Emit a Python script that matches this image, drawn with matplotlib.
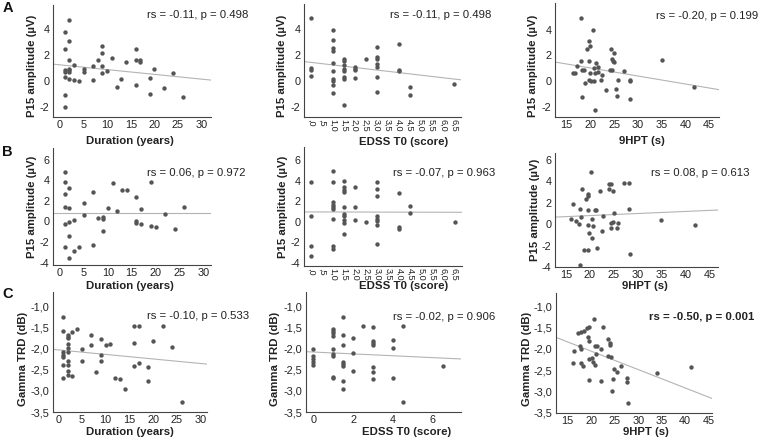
import matplotlib
matplotlib.use("Agg")
import matplotlib.pyplot as plt
import numpy as np

plt.rcParams['font.family'] = ['Liberation Sans', 'DejaVu Sans']

W, H = 760, 443

# ---------------- data ----------------
# Row A: P15 amplitude
dur_A = [1,1,1,1,1,1,1, 2,2,2,2,2,2,2, 3,3, 4, 5,5, 7,7, 8, 9,9,9,9, 10, 11, 12, 13, 14,
         16,16,16, 17,17, 19,19, 20, 22, 24, 26]
p15_dur_A = [3.77,2.42,0.80,0.67,0.26,-1.09,-2.03, 4.69,3.03,1.56,0.92,0.80,0.67,0.11,
             1.25,0.06, 0.0, 0.92,0.67, 1.13,0.03, 1.61, 2.68,2.12,1.10,0.64, 0.72, 1.74,
             -0.47, 0.16, 1.46, 2.47,1.61,-0.35, 1.58,1.43, 0.19,-1.00, 0.92, -0.58, 0.57, -1.24]

edss_A = [0,0,0,0, 1,1,1,1,1,1,1,1,1,1, 1.5,1.5,1.5,1.5,1.5,1.5,1.5,1.5, 2,2,2,2, 2.5,
          3,3,3,3,3,3,3, 4,4,4, 4.5,4.5, 6.5]
p15_edss_A = [4.79,0.97,0.80,0.39, 3.90,3.14,2.55,2.25,1.36,0.77,0.14,-0.04,-0.32,-0.93,
              1.71,1.56,1.18,0.90,0.77,0.29,0.16,-1.85, 1.10,0.92,0.80,0.26, 1.69,
              2.58,1.86,1.71,1.28,1.08,0.29,-0.86, 2.80,0.82,0.72, -0.45,-1.09, -0.20]

hpt_A = [18.0,20.5,19.7,19.9,19.2,24.3,25.0,24.5,24.8,25.0,35.1,18.1,19.8,21.1,17.2,20.7,
         21.6,18.3,18.6,24.1,24.5,27.0,16.3,16.8,19.9,21.0,21.5,22.5,19.8,20.1,20.7,18.9,
         22.3,25.8,28.3,28.3,23.2,25.3,25.7,18.2,28.4,20.9,41.9]
p15_hpt_A = [4.88,3.95,3.15,2.76,2.53,2.50,2.19,1.73,1.60,1.47,1.65,1.57,1.60,1.42,1.21,1.05,
             1.10,0.87,0.87,0.90,0.90,0.82,0.62,0.62,0.64,0.67,0.69,0.51,0.12,0.02,0.02,-0.11,
             0.10,0.07,0.12,-0.01,-0.70,-0.60,-1.17,-1.22,-1.37,-2.20,-0.42]

# Row B: P15 amplitude (second measure)
dur_B = [1,1,1,1,1,1, 2,2,2,2,2, 3,3, 4, 5,5, 7,7, 8, 9,9,9, 10, 11, 12, 13, 14,
         16,16,16, 17,17, 19,19, 20, 22, 24, 26]
p15_dur_B = [4.80,3.79,2.66,1.36,-0.27,-2.50, 3.27,1.29,-0.01,-1.37,-3.51, 0.16,-2.83, -2.47,
             1.81,0.64, 2.85,-2.31, 0.35, 0.45,0.22,-0.92, 1.29, 3.73, 1.03, 3.01, 3.01,
             2.33,0.09,-0.10, 1.26,-0.20, 3.82,-0.43, -0.49, 0.68, -0.75, 1.39]

edss_B = [0,0,0,0, 1,1,1,1,1,1,1,1,1, 1.5,1.5,1.5,1.5,1.5,1.5,1.5,1.5,1.5,1.5, 2,2,2, 2.5,
          3,3,3,3,3,3,3,3, 4,4,4, 4.5,4.5, 6.5]
p15_edss_B = [3.89,0.55,-2.31,-3.32, 4.93,3.86,1.97,1.68,1.45,1.23,0.32,-2.38,-2.67,
              3.99,3.40,3.14,2.92,1.45,0.81,0.55,0.22,-0.07,-1.18, 3.40,1.45,0.16, -0.04,
              3.89,3.18,2.53,0.55,0.26,0.06,-0.30,-2.12, 2.82,-0.49,-0.69, 1.55,0.84, -0.01]

hpt_B = [20.3,18.4,19.5,19.7,19.2,22.1,24.0,24.5,23.9,24.8,27.1,28.2,16.4,18.0,19.7,21.0,
         21.3,25.1,28.2,18.2,22.8,16.1,17.1,20.4,17.8,19.7,20.7,24.5,24.8,25.9,22.5,24.4,
         25.6,19.9,20.4,21.4,18.8,19.7,28.3,18.0,34.8,42.0]
p15_hpt_B = [4.87,3.27,2.87,2.68,2.40,3.09,3.78,3.78,3.34,3.12,3.87,3.87,1.86,1.39,1.36,1.33,
             1.30,1.05,1.42,0.69,0.75,0.53,0.34,0.47,0.06,-0.09,-0.15,0.09,0.25,0.09,-0.63,-0.38,
             -0.35,-0.85,-1.26,-2.23,-2.43,-2.43,-2.78,-3.82,0.43,-0.07]

# Row C: Gamma TRD
dur_C = [1,1,1,1,1,1,1, 2,2,2,2,2,2,2,2,2,2, 3,3, 4, 5,5, 7,7, 8, 9,9,9, 10, 11, 12, 13, 14,
         16,16,16, 17,17, 19,19, 20, 22, 24, 26]
trd_dur_C = [-1.25,-1.57,-2.08,-2.14,-2.18,-2.38,-2.70,
             -1.67,-1.71,-1.75,-1.88,-1.98,-2.08,-2.28,-2.39,-2.52,-2.61,
             -1.59,-2.64, -1.53, -1.99,-2.29, -1.67,-1.91, -2.54, -1.77,-2.14,-2.29,
             -1.91, -1.89, -2.68, -2.71, -2.95, -1.45,-1.87,-2.40, -1.45,-2.34,
             -2.42,-2.76, -1.81, -1.45, -1.96, -3.26]

edss_C = [0,0,0,0,0, 1,1,1,1,1,1,1,1,1, 1.5,1.5,1.5,1.5,1.5,1.5,1.5,1.5, 2,2,2, 2.5,
          3,3,3,3,3,3,3, 4,4,4, 4.5,4.5, 6.5]
trd_edss_C = [-1.99,-2.17,-2.24,-2.32,-2.38,
              -1.53,-1.57,-1.62,-1.69,-2.00,-2.12,-2.17,-2.66,-2.70,
              -1.25,-1.67,-1.91,-2.30,-2.36,-2.40,-2.77,-2.96,
              -1.73,-2.09,-2.53, -1.45,
              -1.47,-1.81,-1.87,-1.91,-2.43,-2.55,-2.72,
              -1.78,-1.97,-2.70, -1.45,-3.26, -2.40]

hpt_C = [20.5,22.6,17.1,17.8,18.5,19.0,19.5,19.3,19.6,17.7,17.8,16.4,20.7,21.2,23.6,23.9,
         24.0,22.0,21.0,19.5,20.1,20.3,20.7,16.1,17.8,18.2,23.6,24.3,24.9,26.3,25.4,19.6,
         22.0,24.6,27.7,27.7,24.4,27.9,34.1,41.2]
trd_hpt_C = [-1.29,-1.49,-1.63,-1.61,-1.57,-1.50,-1.49,-1.71,-1.82,-1.92,-2.01,-2.04,-1.94,
             -1.94,-1.76,-1.86,-1.91,-2.00,-2.12,-2.23,-2.21,-2.30,-2.37,-2.32,-2.33,-2.41,
             -2.16,-2.18,-2.47,-2.40,-2.55,-2.73,-2.75,-2.71,-2.69,-2.78,-2.98,-3.27,-2.56,-2.43]

# fit lines (intercept, slope)
fit_A = [(1.226, -0.0364), (1.42, -0.196), (2.27, -0.062)]
fit_B = [(0.87, 0.0), (0.97, -0.005), (0.42, 0.0194)]
fit_C = [(-2.022, -0.0108), (-2.073, -0.0222), (-1.19, -0.0431)]

stats_A = ["rs = -0.11, p = 0.498", "rs = -0.11, p = 0.498", "rs = -0.20, p = 0.199"]
stats_B = ["rs = 0.06, p = 0.972", "rs = -0.07, p = 0.963", "rs = 0.08, p = 0.613"]
stats_C = ["rs = -0.10, p = 0.533", "rs = -0.02, p = 0.906", "rs = -0.50, p = 0.001"]

xlabels = ["Duration (years)", "EDSS T0 (score)", "9HPT (s)"]
ylabels = ["P15 amplitude (\u00b5V)", "P15 amplitude (\u00b5V)", "Gamma TRD (dB)"]
row_letters = ["A", "B", "C"]

edss_ticks = [0, 0.5, 1, 1.5, 2, 2.5, 3, 3.5, 4, 4.5, 5, 5.5, 6, 6.5]
edss_ticklabels = [",0", ",5", "1,0", "1,5", "2,0", "2,5", "3,0", "3,5", "4,0", "4,5",
                   "5,0", "5,5", "6,0", "6,5"]
dur_ticks = [0, 5, 10, 15, 20, 25, 30]
hpt_ticks = [15, 20, 25, 30, 35, 40, 45]
p15_ticks_A = [-2, 0, 2, 4]
p15_ticks_B = [-4, -2, 0, 2, 4, 6]
trd_ticks = [-3.5, -3.0, -2.5, -2.0, -1.5, -1.0]
edss_ticks_C = [0, 2, 4, 6]

# ---------------- layout (pixels) ----------------
rects = [
    [(53, 5, 211, 117), (304, 4, 461, 117), (555, 3, 719, 117)],
    [(53, 148, 211, 265), (304, 147, 462, 266), (555, 153, 718, 267)],
    [(53, 292, 207, 412), (306, 292, 461, 412), (556, 293, 712, 413)],
]
xlims = [
    [(-1.49, 32.0), (-0.30, 6.83), (12.54, 47.1)],
    [(-1.45, 31.6), (-0.30, 6.83), (12.7, 46.8)],
    [(-1.11, 31.35), (-0.37, 7.43), (12.5, 45.7)],
]
ylims = [
    [(-2.76, 5.80), (-2.76, 5.88), (-2.77, 6.07)],
    [(-4.23, 7.14), (-4.30, 7.30), (-3.97, 6.66)],
    [(-3.5, -0.645), (-3.5, -0.645), (-3.5, -0.69)],
]
stat_pos = [[(147, 15), (390, 15), (656, 16)],
            [(147, 173), (393, 173), (651, 173)],
            [(147, 316), (393, 317), (649, 317)]]
ylab_pos = [[(32, 66), (282, 66), (533, 66)],
            [(32, 207), (283, 207), (535, 210)],
            [(23, 359), (275, 359), (527, 359)]]
xlab_pos = [[(130, 141), (404, 142), (642, 141)],
            [(130, 286), (404, 286), (645, 286)],
            [(130, 432), (407, 432), (646, 432)]]
letter_pos = [(7.5, 8), (7.5, 152), (7.5, 294.5)]

data = [
    [(dur_A, p15_dur_A), (edss_A, p15_edss_A), (hpt_A, p15_hpt_A)],
    [(dur_B, p15_dur_B), (edss_B, p15_edss_B), (hpt_B, p15_hpt_B)],
    [(dur_C, trd_dur_C), (edss_C, trd_edss_C), (hpt_C, trd_hpt_C)],
]
fits = [fit_A, fit_B, fit_C]
stats = [stats_A, stats_B, stats_C]

DOT = '#555555'
LINE = '#b4b4b4'
SPINE = '#444444'

fig = plt.figure(figsize=(W / 100, H / 100), dpi=100)


def px(x, y):
    return x / W, 1 - y / H


def fmt_comma(v):
    return ("%.1f" % v).replace(".", ",")


for r in range(3):
    for c in range(3):
        l, t, rr, b = rects[r][c]
        ax = fig.add_axes([l / W, 1 - b / H, (rr - l) / W, (b - t) / H])
        xs, ys = data[r][c]
        ax.scatter(xs, ys, s=10, color=DOT, linewidths=0, zorder=3)
        x0, x1 = xlims[r][c]
        a, k = fits[r][c]
        xx = np.array([x0, x1])
        ax.plot(xx, a + k * xx, color=LINE, lw=0.8, zorder=2)
        ax.set_xlim(x0, x1)
        ax.set_ylim(*ylims[r][c])
        for s in ['top', 'right']:
            ax.spines[s].set_visible(False)
        for s in ['left', 'bottom']:
            ax.spines[s].set_color(SPINE)
            ax.spines[s].set_linewidth(0.8)
        ax.tick_params(length=0, labelsize=7.8, pad=2.5, colors='#222222')
        # x ticks
        if c == 0:
            ax.set_xticks(dur_ticks)
            ax.set_xticklabels([str(v) for v in dur_ticks])
        elif c == 1:
            if r < 2:
                ax.set_xticks(edss_ticks)
                ax.set_xticklabels(edss_ticklabels, rotation=-90, fontsize=6.6,
                                   va='top', ha='center',
                                   family=['Liberation Sans Narrow', 'Liberation Sans'])
                ax.tick_params(axis='x', pad=1.5)
            else:
                ax.set_xticks(edss_ticks_C)
                ax.set_xticklabels([str(v) for v in edss_ticks_C])
        else:
            ax.set_xticks(hpt_ticks)
            ax.set_xticklabels([str(v) for v in hpt_ticks])
        # y ticks
        if r == 0:
            ax.set_yticks(p15_ticks_A)
            ax.set_yticklabels([str(v) for v in p15_ticks_A])
        elif r == 1:
            ax.set_yticks(p15_ticks_B)
            ax.set_yticklabels([str(v) for v in p15_ticks_B])
        else:
            ax.set_yticks(trd_ticks)
            ax.set_yticklabels([fmt_comma(v) for v in trd_ticks])

        sx, sy = stat_pos[r][c]
        bold = (r == 2 and c == 2)
        fig.text(*px(sx, sy), stats[r][c], ha='left', va='center', fontsize=8.2,
                 fontweight='bold' if bold else 'normal', color='#222222')
        lx, ly = ylab_pos[r][c]
        fig.text(*px(lx, ly), ylabels[r], rotation=90, ha='center', va='center',
                 fontsize=8.2, fontweight='bold', color='#222222')
        qx, qy = xlab_pos[r][c]
        fig.text(*px(qx, qy), xlabels[c], ha='center', va='center',
                 fontsize=8.2, fontweight='bold', color='#222222')

for r in range(3):
    fig.text(*px(*letter_pos[r]), row_letters[r], ha='center', va='center',
             fontsize=10.5, fontweight='bold', color='#111111')

fig.savefig("out.png", dpi=100)
